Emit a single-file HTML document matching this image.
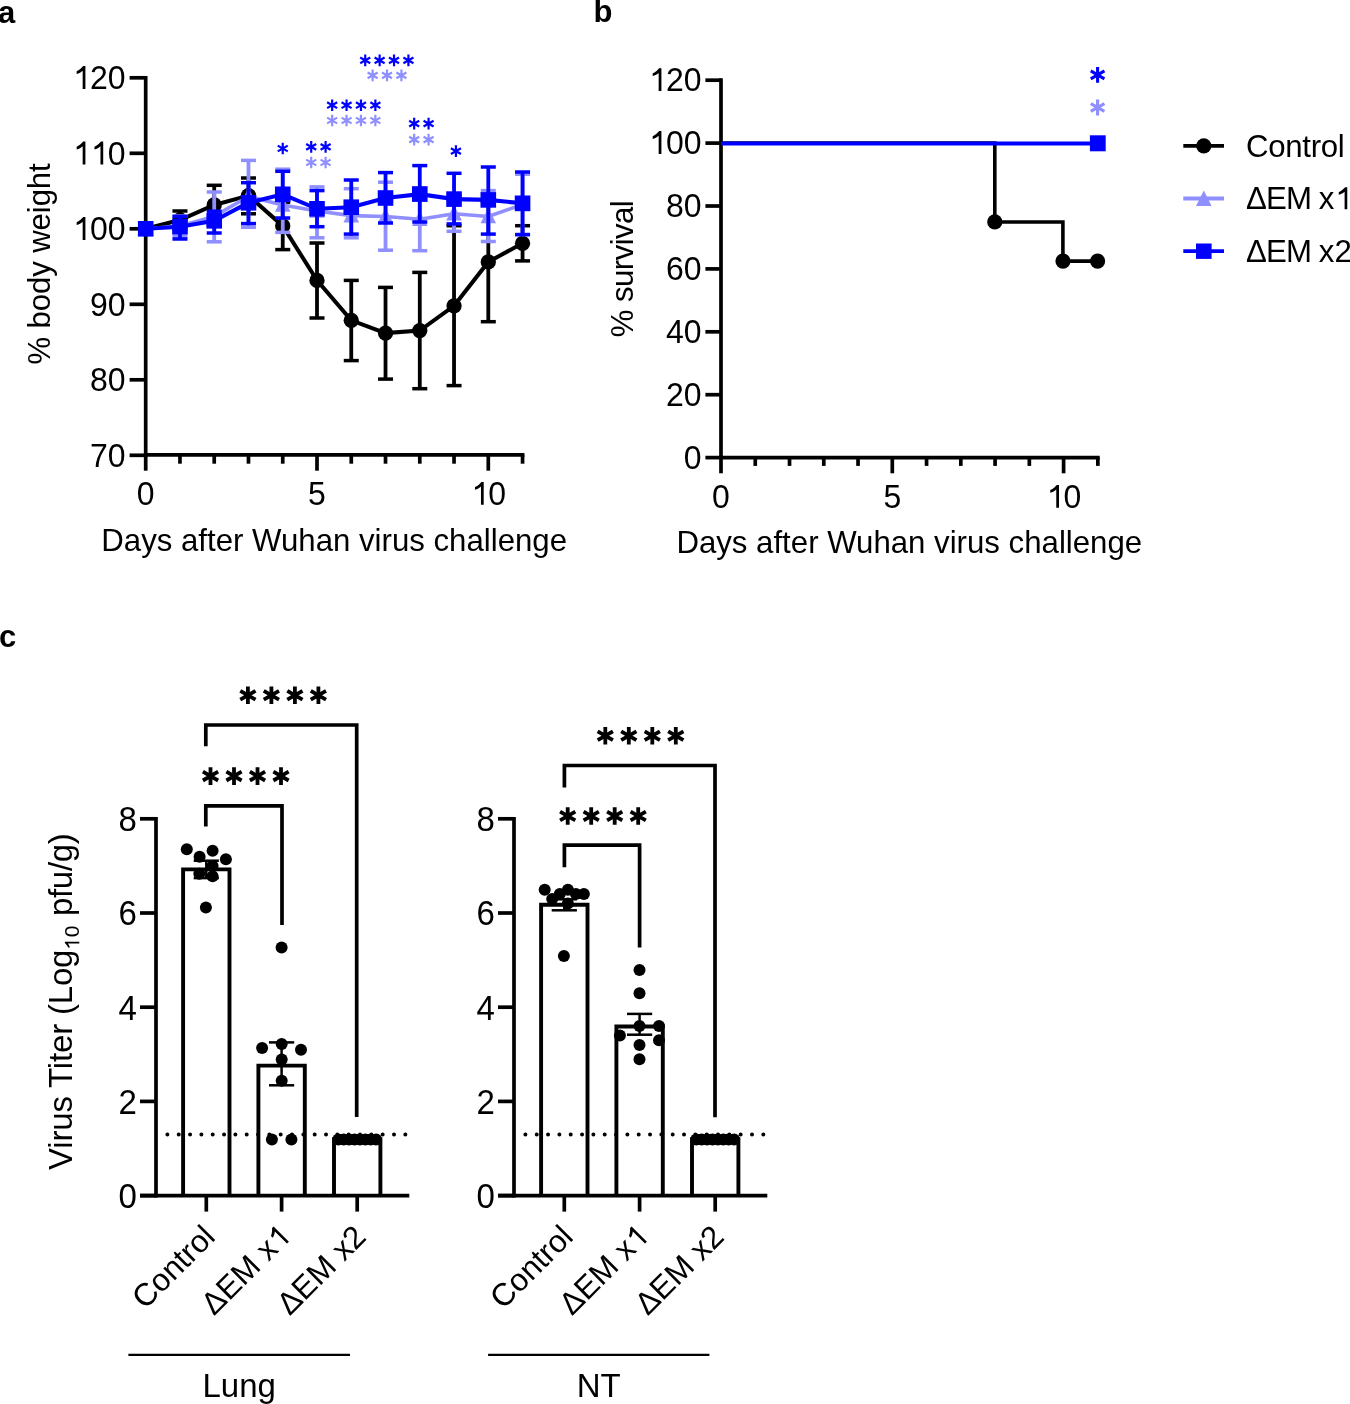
<!DOCTYPE html>
<html><head><meta charset="utf-8"><style>
html,body{margin:0;padding:0;background:#fff;}
svg{display:block;}
text{font-family:"Liberation Sans",sans-serif;white-space:pre;}
svg{will-change:transform;}
</style></head><body>
<svg width="1350" height="1404" viewBox="0 0 1350 1404">
<rect width="1350" height="1404" fill="#fff"/>
<text x="-2.00" y="22.70" font-size="31" text-anchor="start" font-weight="bold" fill="#000" >a</text>
<line x1="145.70" y1="75.95" x2="145.70" y2="454.80" stroke="#000" stroke-width="3.7" stroke-linecap="butt"/>
<line x1="129.60" y1="455.30" x2="145.70" y2="455.30" stroke="#000" stroke-width="3.7" stroke-linecap="butt"/>
<text transform="translate(90.01,466.50) scale(1,1.04)" font-size="32.0">7</text>
<text transform="translate(107.80,466.50) scale(1,1.04)" font-size="32.0">0</text>
<line x1="129.60" y1="379.80" x2="145.70" y2="379.80" stroke="#000" stroke-width="3.7" stroke-linecap="butt"/>
<text transform="translate(90.01,391.00) scale(1,1.04)" font-size="32.0">8</text>
<text transform="translate(107.80,391.00) scale(1,1.04)" font-size="32.0">0</text>
<line x1="129.60" y1="304.30" x2="145.70" y2="304.30" stroke="#000" stroke-width="3.7" stroke-linecap="butt"/>
<text transform="translate(90.01,315.50) scale(1,1.04)" font-size="32.0">9</text>
<text transform="translate(107.80,315.50) scale(1,1.04)" font-size="32.0">0</text>
<line x1="129.60" y1="228.80" x2="145.70" y2="228.80" stroke="#000" stroke-width="3.7" stroke-linecap="butt"/>
<path d="M845,0L670,0L670,1120C620,1075 565,1040 500,1005C430,968 350,940 285,922L285,1090C380,1130 470,1185 550,1255C620,1318 670,1370 705,1409L845,1409Z" fill="#000" transform="translate(72.21,240.00) scale(0.01562,-0.01625)"/>
<text transform="translate(90.01,240.00) scale(1,1.04)" font-size="32.0">0</text>
<text transform="translate(107.80,240.00) scale(1,1.04)" font-size="32.0">0</text>
<line x1="129.60" y1="153.30" x2="145.70" y2="153.30" stroke="#000" stroke-width="3.7" stroke-linecap="butt"/>
<path d="M845,0L670,0L670,1120C620,1075 565,1040 500,1005C430,968 350,940 285,922L285,1090C380,1130 470,1185 550,1255C620,1318 670,1370 705,1409L845,1409Z" fill="#000" transform="translate(72.21,164.50) scale(0.01562,-0.01625)"/>
<path d="M845,0L670,0L670,1120C620,1075 565,1040 500,1005C430,968 350,940 285,922L285,1090C380,1130 470,1185 550,1255C620,1318 670,1370 705,1409L845,1409Z" fill="#000" transform="translate(90.01,164.50) scale(0.01562,-0.01625)"/>
<text transform="translate(107.80,164.50) scale(1,1.04)" font-size="32.0">0</text>
<line x1="129.60" y1="77.80" x2="145.70" y2="77.80" stroke="#000" stroke-width="3.7" stroke-linecap="butt"/>
<path d="M845,0L670,0L670,1120C620,1075 565,1040 500,1005C430,968 350,940 285,922L285,1090C380,1130 470,1185 550,1255C620,1318 670,1370 705,1409L845,1409Z" fill="#000" transform="translate(72.21,89.00) scale(0.01562,-0.01625)"/>
<text transform="translate(90.01,89.00) scale(1,1.04)" font-size="32.0">2</text>
<text transform="translate(107.80,89.00) scale(1,1.04)" font-size="32.0">0</text>
<line x1="143.85" y1="454.80" x2="524.41" y2="454.80" stroke="#000" stroke-width="3.7" stroke-linecap="butt"/>
<line x1="145.70" y1="454.80" x2="145.70" y2="470.70" stroke="#000" stroke-width="3.7" stroke-linecap="butt"/>
<line x1="179.96" y1="454.80" x2="179.96" y2="463.70" stroke="#000" stroke-width="3.7" stroke-linecap="butt"/>
<line x1="214.22" y1="454.80" x2="214.22" y2="463.70" stroke="#000" stroke-width="3.7" stroke-linecap="butt"/>
<line x1="248.48" y1="454.80" x2="248.48" y2="463.70" stroke="#000" stroke-width="3.7" stroke-linecap="butt"/>
<line x1="282.74" y1="454.80" x2="282.74" y2="463.70" stroke="#000" stroke-width="3.7" stroke-linecap="butt"/>
<line x1="317.00" y1="454.80" x2="317.00" y2="470.70" stroke="#000" stroke-width="3.7" stroke-linecap="butt"/>
<line x1="351.26" y1="454.80" x2="351.26" y2="463.70" stroke="#000" stroke-width="3.7" stroke-linecap="butt"/>
<line x1="385.52" y1="454.80" x2="385.52" y2="463.70" stroke="#000" stroke-width="3.7" stroke-linecap="butt"/>
<line x1="419.78" y1="454.80" x2="419.78" y2="463.70" stroke="#000" stroke-width="3.7" stroke-linecap="butt"/>
<line x1="454.04" y1="454.80" x2="454.04" y2="463.70" stroke="#000" stroke-width="3.7" stroke-linecap="butt"/>
<line x1="488.30" y1="454.80" x2="488.30" y2="470.70" stroke="#000" stroke-width="3.7" stroke-linecap="butt"/>
<line x1="522.56" y1="454.80" x2="522.56" y2="463.70" stroke="#000" stroke-width="3.7" stroke-linecap="butt"/>
<text transform="translate(136.80,504.80) scale(1,1.04)" font-size="32.0">0</text>
<text transform="translate(308.10,504.80) scale(1,1.04)" font-size="32.0">5</text>
<path d="M845,0L670,0L670,1120C620,1075 565,1040 500,1005C430,968 350,940 285,922L285,1090C380,1130 470,1185 550,1255C620,1318 670,1370 705,1409L845,1409Z" fill="#000" transform="translate(470.50,504.80) scale(0.01562,-0.01625)"/>
<text transform="translate(488.30,504.80) scale(1,1.04)" font-size="32.0">0</text>
<text x="101.30" y="551.10" font-size="31.2" text-anchor="start" font-weight="normal" fill="#000" >Days after Wuhan virus challenge</text>
<text x="0.00" y="0.00" font-size="31.2" text-anchor="middle" font-weight="normal" fill="#000" transform="translate(50,263.9) rotate(-90)" textLength="201.3" lengthAdjust="spacing">% body weight</text>
<line x1="179.96" y1="211.00" x2="179.96" y2="229.00" stroke="#000" stroke-width="3.8" stroke-linecap="butt"/>
<line x1="172.46" y1="211.00" x2="187.46" y2="211.00" stroke="#000" stroke-width="3.5" stroke-linecap="butt"/>
<line x1="172.46" y1="229.00" x2="187.46" y2="229.00" stroke="#000" stroke-width="3.5" stroke-linecap="butt"/>
<line x1="214.22" y1="185.30" x2="214.22" y2="224.70" stroke="#000" stroke-width="3.8" stroke-linecap="butt"/>
<line x1="206.72" y1="185.30" x2="221.72" y2="185.30" stroke="#000" stroke-width="3.5" stroke-linecap="butt"/>
<line x1="206.72" y1="224.70" x2="221.72" y2="224.70" stroke="#000" stroke-width="3.5" stroke-linecap="butt"/>
<line x1="248.48" y1="178.00" x2="248.48" y2="213.80" stroke="#000" stroke-width="3.8" stroke-linecap="butt"/>
<line x1="240.98" y1="178.00" x2="255.98" y2="178.00" stroke="#000" stroke-width="3.5" stroke-linecap="butt"/>
<line x1="240.98" y1="213.80" x2="255.98" y2="213.80" stroke="#000" stroke-width="3.5" stroke-linecap="butt"/>
<line x1="282.74" y1="202.20" x2="282.74" y2="249.60" stroke="#000" stroke-width="3.8" stroke-linecap="butt"/>
<line x1="275.24" y1="202.20" x2="290.24" y2="202.20" stroke="#000" stroke-width="3.5" stroke-linecap="butt"/>
<line x1="275.24" y1="249.60" x2="290.24" y2="249.60" stroke="#000" stroke-width="3.5" stroke-linecap="butt"/>
<line x1="317.00" y1="243.00" x2="317.00" y2="318.00" stroke="#000" stroke-width="3.8" stroke-linecap="butt"/>
<line x1="309.50" y1="243.00" x2="324.50" y2="243.00" stroke="#000" stroke-width="3.5" stroke-linecap="butt"/>
<line x1="309.50" y1="318.00" x2="324.50" y2="318.00" stroke="#000" stroke-width="3.5" stroke-linecap="butt"/>
<line x1="351.26" y1="280.40" x2="351.26" y2="360.60" stroke="#000" stroke-width="3.8" stroke-linecap="butt"/>
<line x1="343.76" y1="280.40" x2="358.76" y2="280.40" stroke="#000" stroke-width="3.5" stroke-linecap="butt"/>
<line x1="343.76" y1="360.60" x2="358.76" y2="360.60" stroke="#000" stroke-width="3.5" stroke-linecap="butt"/>
<line x1="385.52" y1="287.40" x2="385.52" y2="379.10" stroke="#000" stroke-width="3.8" stroke-linecap="butt"/>
<line x1="378.02" y1="287.40" x2="393.02" y2="287.40" stroke="#000" stroke-width="3.5" stroke-linecap="butt"/>
<line x1="378.02" y1="379.10" x2="393.02" y2="379.10" stroke="#000" stroke-width="3.5" stroke-linecap="butt"/>
<line x1="419.78" y1="272.40" x2="419.78" y2="388.70" stroke="#000" stroke-width="3.8" stroke-linecap="butt"/>
<line x1="412.28" y1="272.40" x2="427.28" y2="272.40" stroke="#000" stroke-width="3.5" stroke-linecap="butt"/>
<line x1="412.28" y1="388.70" x2="427.28" y2="388.70" stroke="#000" stroke-width="3.5" stroke-linecap="butt"/>
<line x1="454.04" y1="225.70" x2="454.04" y2="385.60" stroke="#000" stroke-width="3.8" stroke-linecap="butt"/>
<line x1="446.54" y1="225.70" x2="461.54" y2="225.70" stroke="#000" stroke-width="3.5" stroke-linecap="butt"/>
<line x1="446.54" y1="385.60" x2="461.54" y2="385.60" stroke="#000" stroke-width="3.5" stroke-linecap="butt"/>
<line x1="488.30" y1="202.10" x2="488.30" y2="321.70" stroke="#000" stroke-width="3.8" stroke-linecap="butt"/>
<line x1="480.80" y1="202.10" x2="495.80" y2="202.10" stroke="#000" stroke-width="3.5" stroke-linecap="butt"/>
<line x1="480.80" y1="321.70" x2="495.80" y2="321.70" stroke="#000" stroke-width="3.5" stroke-linecap="butt"/>
<line x1="522.56" y1="225.70" x2="522.56" y2="260.90" stroke="#000" stroke-width="3.8" stroke-linecap="butt"/>
<line x1="515.06" y1="225.70" x2="530.06" y2="225.70" stroke="#000" stroke-width="3.5" stroke-linecap="butt"/>
<line x1="515.06" y1="260.90" x2="530.06" y2="260.90" stroke="#000" stroke-width="3.5" stroke-linecap="butt"/>
<polyline points="145.70,228.80 179.96,220.00 214.22,205.00 248.48,195.60 282.74,225.90 317.00,280.40 351.26,320.30 385.52,333.10 419.78,330.60 454.04,305.80 488.30,261.90 522.56,243.30" fill="none" stroke="#000" stroke-width="4.0" stroke-linejoin="miter"/>
<circle cx="145.70" cy="228.80" r="7.65" fill="#000"/>
<circle cx="179.96" cy="220.00" r="7.65" fill="#000"/>
<circle cx="214.22" cy="205.00" r="7.65" fill="#000"/>
<circle cx="248.48" cy="195.60" r="7.65" fill="#000"/>
<circle cx="282.74" cy="225.90" r="7.65" fill="#000"/>
<circle cx="317.00" cy="280.40" r="7.65" fill="#000"/>
<circle cx="351.26" cy="320.30" r="7.65" fill="#000"/>
<circle cx="385.52" cy="333.10" r="7.65" fill="#000"/>
<circle cx="419.78" cy="330.60" r="7.65" fill="#000"/>
<circle cx="454.04" cy="305.80" r="7.65" fill="#000"/>
<circle cx="488.30" cy="261.90" r="7.65" fill="#000"/>
<circle cx="522.56" cy="243.30" r="7.65" fill="#000"/>
<line x1="179.96" y1="216.00" x2="179.96" y2="236.20" stroke="#8f8fff" stroke-width="3.8" stroke-linecap="butt"/>
<line x1="172.46" y1="216.00" x2="187.46" y2="216.00" stroke="#8f8fff" stroke-width="3.5" stroke-linecap="butt"/>
<line x1="172.46" y1="236.20" x2="187.46" y2="236.20" stroke="#8f8fff" stroke-width="3.5" stroke-linecap="butt"/>
<line x1="214.22" y1="192.00" x2="214.22" y2="241.80" stroke="#8f8fff" stroke-width="3.8" stroke-linecap="butt"/>
<line x1="206.72" y1="192.00" x2="221.72" y2="192.00" stroke="#8f8fff" stroke-width="3.5" stroke-linecap="butt"/>
<line x1="206.72" y1="241.80" x2="221.72" y2="241.80" stroke="#8f8fff" stroke-width="3.5" stroke-linecap="butt"/>
<line x1="248.48" y1="160.40" x2="248.48" y2="227.30" stroke="#8f8fff" stroke-width="3.8" stroke-linecap="butt"/>
<line x1="240.98" y1="160.40" x2="255.98" y2="160.40" stroke="#8f8fff" stroke-width="3.5" stroke-linecap="butt"/>
<line x1="240.98" y1="227.30" x2="255.98" y2="227.30" stroke="#8f8fff" stroke-width="3.5" stroke-linecap="butt"/>
<line x1="282.74" y1="169.20" x2="282.74" y2="232.40" stroke="#8f8fff" stroke-width="3.8" stroke-linecap="butt"/>
<line x1="275.24" y1="169.20" x2="290.24" y2="169.20" stroke="#8f8fff" stroke-width="3.5" stroke-linecap="butt"/>
<line x1="275.24" y1="232.40" x2="290.24" y2="232.40" stroke="#8f8fff" stroke-width="3.5" stroke-linecap="butt"/>
<line x1="317.00" y1="186.90" x2="317.00" y2="237.80" stroke="#8f8fff" stroke-width="3.8" stroke-linecap="butt"/>
<line x1="309.50" y1="186.90" x2="324.50" y2="186.90" stroke="#8f8fff" stroke-width="3.5" stroke-linecap="butt"/>
<line x1="309.50" y1="237.80" x2="324.50" y2="237.80" stroke="#8f8fff" stroke-width="3.5" stroke-linecap="butt"/>
<line x1="351.26" y1="188.70" x2="351.26" y2="237.80" stroke="#8f8fff" stroke-width="3.8" stroke-linecap="butt"/>
<line x1="343.76" y1="188.70" x2="358.76" y2="188.70" stroke="#8f8fff" stroke-width="3.5" stroke-linecap="butt"/>
<line x1="343.76" y1="237.80" x2="358.76" y2="237.80" stroke="#8f8fff" stroke-width="3.5" stroke-linecap="butt"/>
<line x1="385.52" y1="182.20" x2="385.52" y2="250.20" stroke="#8f8fff" stroke-width="3.8" stroke-linecap="butt"/>
<line x1="378.02" y1="182.20" x2="393.02" y2="182.20" stroke="#8f8fff" stroke-width="3.5" stroke-linecap="butt"/>
<line x1="378.02" y1="250.20" x2="393.02" y2="250.20" stroke="#8f8fff" stroke-width="3.5" stroke-linecap="butt"/>
<line x1="419.78" y1="187.90" x2="419.78" y2="250.70" stroke="#8f8fff" stroke-width="3.8" stroke-linecap="butt"/>
<line x1="412.28" y1="187.90" x2="427.28" y2="187.90" stroke="#8f8fff" stroke-width="3.5" stroke-linecap="butt"/>
<line x1="412.28" y1="250.70" x2="427.28" y2="250.70" stroke="#8f8fff" stroke-width="3.5" stroke-linecap="butt"/>
<line x1="454.04" y1="196.00" x2="454.04" y2="231.30" stroke="#8f8fff" stroke-width="3.8" stroke-linecap="butt"/>
<line x1="446.54" y1="196.00" x2="461.54" y2="196.00" stroke="#8f8fff" stroke-width="3.5" stroke-linecap="butt"/>
<line x1="446.54" y1="231.30" x2="461.54" y2="231.30" stroke="#8f8fff" stroke-width="3.5" stroke-linecap="butt"/>
<line x1="488.30" y1="190.60" x2="488.30" y2="241.50" stroke="#8f8fff" stroke-width="3.8" stroke-linecap="butt"/>
<line x1="480.80" y1="190.60" x2="495.80" y2="190.60" stroke="#8f8fff" stroke-width="3.5" stroke-linecap="butt"/>
<line x1="480.80" y1="241.50" x2="495.80" y2="241.50" stroke="#8f8fff" stroke-width="3.5" stroke-linecap="butt"/>
<line x1="522.56" y1="174.20" x2="522.56" y2="234.60" stroke="#8f8fff" stroke-width="3.8" stroke-linecap="butt"/>
<line x1="515.06" y1="174.20" x2="530.06" y2="174.20" stroke="#8f8fff" stroke-width="3.5" stroke-linecap="butt"/>
<line x1="515.06" y1="234.60" x2="530.06" y2="234.60" stroke="#8f8fff" stroke-width="3.5" stroke-linecap="butt"/>
<polyline points="145.70,228.80 179.96,226.00 214.22,216.40 248.48,196.50 282.74,205.00 317.00,211.00 351.26,215.60 385.52,216.50 419.78,219.30 454.04,213.70 488.30,216.50 522.56,204.40" fill="none" stroke="#8f8fff" stroke-width="3.6" stroke-linejoin="miter"/>
<path d="M145.70,220.20L153.50,235.60L137.90,235.60Z" fill="#8f8fff"/>
<path d="M179.96,217.40L187.76,232.80L172.16,232.80Z" fill="#8f8fff"/>
<path d="M214.22,207.80L222.02,223.20L206.42,223.20Z" fill="#8f8fff"/>
<path d="M248.48,187.90L256.28,203.30L240.68,203.30Z" fill="#8f8fff"/>
<path d="M282.74,196.40L290.54,211.80L274.94,211.80Z" fill="#8f8fff"/>
<path d="M317.00,202.40L324.80,217.80L309.20,217.80Z" fill="#8f8fff"/>
<path d="M351.26,207.00L359.06,222.40L343.46,222.40Z" fill="#8f8fff"/>
<path d="M385.52,207.90L393.32,223.30L377.72,223.30Z" fill="#8f8fff"/>
<path d="M419.78,210.70L427.58,226.10L411.98,226.10Z" fill="#8f8fff"/>
<path d="M454.04,205.10L461.84,220.50L446.24,220.50Z" fill="#8f8fff"/>
<path d="M488.30,207.90L496.10,223.30L480.50,223.30Z" fill="#8f8fff"/>
<path d="M522.56,195.80L530.36,211.20L514.76,211.20Z" fill="#8f8fff"/>
<line x1="179.96" y1="216.50" x2="179.96" y2="239.00" stroke="#0000ff" stroke-width="3.8" stroke-linecap="butt"/>
<line x1="172.46" y1="216.50" x2="187.46" y2="216.50" stroke="#0000ff" stroke-width="3.5" stroke-linecap="butt"/>
<line x1="172.46" y1="239.00" x2="187.46" y2="239.00" stroke="#0000ff" stroke-width="3.5" stroke-linecap="butt"/>
<line x1="214.22" y1="211.20" x2="214.22" y2="233.00" stroke="#0000ff" stroke-width="3.8" stroke-linecap="butt"/>
<line x1="206.72" y1="211.20" x2="221.72" y2="211.20" stroke="#0000ff" stroke-width="3.5" stroke-linecap="butt"/>
<line x1="206.72" y1="233.00" x2="221.72" y2="233.00" stroke="#0000ff" stroke-width="3.5" stroke-linecap="butt"/>
<line x1="248.48" y1="182.70" x2="248.48" y2="223.60" stroke="#0000ff" stroke-width="3.8" stroke-linecap="butt"/>
<line x1="240.98" y1="182.70" x2="255.98" y2="182.70" stroke="#0000ff" stroke-width="3.5" stroke-linecap="butt"/>
<line x1="240.98" y1="223.60" x2="255.98" y2="223.60" stroke="#0000ff" stroke-width="3.5" stroke-linecap="butt"/>
<line x1="282.74" y1="171.30" x2="282.74" y2="218.00" stroke="#0000ff" stroke-width="3.8" stroke-linecap="butt"/>
<line x1="275.24" y1="171.30" x2="290.24" y2="171.30" stroke="#0000ff" stroke-width="3.5" stroke-linecap="butt"/>
<line x1="275.24" y1="218.00" x2="290.24" y2="218.00" stroke="#0000ff" stroke-width="3.5" stroke-linecap="butt"/>
<line x1="317.00" y1="190.60" x2="317.00" y2="226.70" stroke="#0000ff" stroke-width="3.8" stroke-linecap="butt"/>
<line x1="309.50" y1="190.60" x2="324.50" y2="190.60" stroke="#0000ff" stroke-width="3.5" stroke-linecap="butt"/>
<line x1="309.50" y1="226.70" x2="324.50" y2="226.70" stroke="#0000ff" stroke-width="3.5" stroke-linecap="butt"/>
<line x1="351.26" y1="180.00" x2="351.26" y2="234.10" stroke="#0000ff" stroke-width="3.8" stroke-linecap="butt"/>
<line x1="343.76" y1="180.00" x2="358.76" y2="180.00" stroke="#0000ff" stroke-width="3.5" stroke-linecap="butt"/>
<line x1="343.76" y1="234.10" x2="358.76" y2="234.10" stroke="#0000ff" stroke-width="3.5" stroke-linecap="butt"/>
<line x1="385.52" y1="172.60" x2="385.52" y2="223.00" stroke="#0000ff" stroke-width="3.8" stroke-linecap="butt"/>
<line x1="378.02" y1="172.60" x2="393.02" y2="172.60" stroke="#0000ff" stroke-width="3.5" stroke-linecap="butt"/>
<line x1="378.02" y1="223.00" x2="393.02" y2="223.00" stroke="#0000ff" stroke-width="3.5" stroke-linecap="butt"/>
<line x1="419.78" y1="165.60" x2="419.78" y2="222.00" stroke="#0000ff" stroke-width="3.8" stroke-linecap="butt"/>
<line x1="412.28" y1="165.60" x2="427.28" y2="165.60" stroke="#0000ff" stroke-width="3.5" stroke-linecap="butt"/>
<line x1="412.28" y1="222.00" x2="427.28" y2="222.00" stroke="#0000ff" stroke-width="3.5" stroke-linecap="butt"/>
<line x1="454.04" y1="173.30" x2="454.04" y2="223.90" stroke="#0000ff" stroke-width="3.8" stroke-linecap="butt"/>
<line x1="446.54" y1="173.30" x2="461.54" y2="173.30" stroke="#0000ff" stroke-width="3.5" stroke-linecap="butt"/>
<line x1="446.54" y1="223.90" x2="461.54" y2="223.90" stroke="#0000ff" stroke-width="3.5" stroke-linecap="butt"/>
<line x1="488.30" y1="167.00" x2="488.30" y2="234.10" stroke="#0000ff" stroke-width="3.8" stroke-linecap="butt"/>
<line x1="480.80" y1="167.00" x2="495.80" y2="167.00" stroke="#0000ff" stroke-width="3.5" stroke-linecap="butt"/>
<line x1="480.80" y1="234.10" x2="495.80" y2="234.10" stroke="#0000ff" stroke-width="3.5" stroke-linecap="butt"/>
<line x1="522.56" y1="172.00" x2="522.56" y2="234.60" stroke="#0000ff" stroke-width="3.8" stroke-linecap="butt"/>
<line x1="515.06" y1="172.00" x2="530.06" y2="172.00" stroke="#0000ff" stroke-width="3.5" stroke-linecap="butt"/>
<line x1="515.06" y1="234.60" x2="530.06" y2="234.60" stroke="#0000ff" stroke-width="3.5" stroke-linecap="butt"/>
<polyline points="145.70,228.80 179.96,226.70 214.22,220.80 248.48,202.80 282.74,194.30 317.00,208.80 351.26,207.20 385.52,198.00 419.78,194.10 454.04,199.10 488.30,199.90 522.56,203.30" fill="none" stroke="#0000ff" stroke-width="4.1" stroke-linejoin="miter"/>
<rect x="137.90" y="221.00" width="15.6" height="15.6" fill="#0000ff"/>
<rect x="172.16" y="218.90" width="15.6" height="15.6" fill="#0000ff"/>
<rect x="206.42" y="213.00" width="15.6" height="15.6" fill="#0000ff"/>
<rect x="240.68" y="195.00" width="15.6" height="15.6" fill="#0000ff"/>
<rect x="274.94" y="186.50" width="15.6" height="15.6" fill="#0000ff"/>
<rect x="309.20" y="201.00" width="15.6" height="15.6" fill="#0000ff"/>
<rect x="343.46" y="199.40" width="15.6" height="15.6" fill="#0000ff"/>
<rect x="377.72" y="190.20" width="15.6" height="15.6" fill="#0000ff"/>
<rect x="411.98" y="186.30" width="15.6" height="15.6" fill="#0000ff"/>
<rect x="446.24" y="191.30" width="15.6" height="15.6" fill="#0000ff"/>
<rect x="480.50" y="192.10" width="15.6" height="15.6" fill="#0000ff"/>
<rect x="514.76" y="195.50" width="15.6" height="15.6" fill="#0000ff"/>
<path d="M282.74,154.30L282.74,142.70M277.72,151.40L287.76,145.60M277.72,145.60L287.76,151.40" stroke="#0000ff" stroke-width="2.2" fill="none"/>
<path d="M311.20,152.70L311.20,141.10M306.18,149.80L316.22,144.00M306.18,144.00L316.22,149.80" stroke="#0000ff" stroke-width="2.2" fill="none"/>
<path d="M325.60,152.70L325.60,141.10M320.58,149.80L330.62,144.00M320.58,144.00L330.62,149.80" stroke="#0000ff" stroke-width="2.2" fill="none"/>
<path d="M311.20,168.30L311.20,156.70M306.18,165.40L316.22,159.60M306.18,159.60L316.22,165.40" stroke="#8f8fff" stroke-width="2.2" fill="none"/>
<path d="M325.60,168.30L325.60,156.70M320.58,165.40L330.62,159.60M320.58,159.60L330.62,165.40" stroke="#8f8fff" stroke-width="2.2" fill="none"/>
<path d="M332.16,111.00L332.16,99.40M327.14,108.10L337.18,102.30M327.14,102.30L337.18,108.10" stroke="#0000ff" stroke-width="2.2" fill="none"/>
<path d="M346.56,111.00L346.56,99.40M341.54,108.10L351.58,102.30M341.54,102.30L351.58,108.10" stroke="#0000ff" stroke-width="2.2" fill="none"/>
<path d="M360.96,111.00L360.96,99.40M355.94,108.10L365.98,102.30M355.94,102.30L365.98,108.10" stroke="#0000ff" stroke-width="2.2" fill="none"/>
<path d="M375.36,111.00L375.36,99.40M370.34,108.10L380.38,102.30M370.34,102.30L380.38,108.10" stroke="#0000ff" stroke-width="2.2" fill="none"/>
<path d="M332.16,126.30L332.16,114.70M327.14,123.40L337.18,117.60M327.14,117.60L337.18,123.40" stroke="#8f8fff" stroke-width="2.2" fill="none"/>
<path d="M346.56,126.30L346.56,114.70M341.54,123.40L351.58,117.60M341.54,117.60L351.58,123.40" stroke="#8f8fff" stroke-width="2.2" fill="none"/>
<path d="M360.96,126.30L360.96,114.70M355.94,123.40L365.98,117.60M355.94,117.60L365.98,123.40" stroke="#8f8fff" stroke-width="2.2" fill="none"/>
<path d="M375.36,126.30L375.36,114.70M370.34,123.40L380.38,117.60M370.34,117.60L380.38,123.40" stroke="#8f8fff" stroke-width="2.2" fill="none"/>
<path d="M365.22,66.20L365.22,54.60M360.20,63.30L370.24,57.50M360.20,57.50L370.24,63.30" stroke="#0000ff" stroke-width="2.2" fill="none"/>
<path d="M379.62,66.20L379.62,54.60M374.60,63.30L384.64,57.50M374.60,57.50L384.64,63.30" stroke="#0000ff" stroke-width="2.2" fill="none"/>
<path d="M394.02,66.20L394.02,54.60M389.00,63.30L399.04,57.50M389.00,57.50L399.04,63.30" stroke="#0000ff" stroke-width="2.2" fill="none"/>
<path d="M408.42,66.20L408.42,54.60M403.40,63.30L413.44,57.50M403.40,57.50L413.44,63.30" stroke="#0000ff" stroke-width="2.2" fill="none"/>
<path d="M372.62,81.20L372.62,69.60M367.60,78.30L377.64,72.50M367.60,72.50L377.64,78.30" stroke="#8f8fff" stroke-width="2.2" fill="none"/>
<path d="M387.02,81.20L387.02,69.60M382.00,78.30L392.04,72.50M382.00,72.50L392.04,78.30" stroke="#8f8fff" stroke-width="2.2" fill="none"/>
<path d="M401.42,81.20L401.42,69.60M396.40,78.30L406.44,72.50M396.40,72.50L406.44,78.30" stroke="#8f8fff" stroke-width="2.2" fill="none"/>
<path d="M414.18,129.40L414.18,117.80M409.16,126.50L419.20,120.70M409.16,120.70L419.20,126.50" stroke="#0000ff" stroke-width="2.2" fill="none"/>
<path d="M428.58,129.40L428.58,117.80M423.56,126.50L433.60,120.70M423.56,120.70L433.60,126.50" stroke="#0000ff" stroke-width="2.2" fill="none"/>
<path d="M414.18,145.40L414.18,133.80M409.16,142.50L419.20,136.70M409.16,136.70L419.20,142.50" stroke="#8f8fff" stroke-width="2.2" fill="none"/>
<path d="M428.58,145.40L428.58,133.80M423.56,142.50L433.60,136.70M423.56,136.70L433.60,142.50" stroke="#8f8fff" stroke-width="2.2" fill="none"/>
<path d="M455.94,156.90L455.94,145.30M450.92,154.00L460.96,148.20M450.92,148.20L460.96,154.00" stroke="#0000ff" stroke-width="2.2" fill="none"/>
<text x="593.60" y="22.20" font-size="31" text-anchor="start" font-weight="bold" fill="#000" >b</text>
<line x1="721.00" y1="78.35" x2="721.00" y2="457.60" stroke="#000" stroke-width="3.7" stroke-linecap="butt"/>
<line x1="705.40" y1="457.60" x2="721.00" y2="457.60" stroke="#000" stroke-width="3.7" stroke-linecap="butt"/>
<text transform="translate(683.80,468.50) scale(1,1.04)" font-size="32.0">0</text>
<line x1="705.40" y1="394.70" x2="721.00" y2="394.70" stroke="#000" stroke-width="3.7" stroke-linecap="butt"/>
<text transform="translate(666.01,405.60) scale(1,1.04)" font-size="32.0">2</text>
<text transform="translate(683.80,405.60) scale(1,1.04)" font-size="32.0">0</text>
<line x1="705.40" y1="331.80" x2="721.00" y2="331.80" stroke="#000" stroke-width="3.7" stroke-linecap="butt"/>
<text transform="translate(666.01,342.70) scale(1,1.04)" font-size="32.0">4</text>
<text transform="translate(683.80,342.70) scale(1,1.04)" font-size="32.0">0</text>
<line x1="705.40" y1="268.90" x2="721.00" y2="268.90" stroke="#000" stroke-width="3.7" stroke-linecap="butt"/>
<text transform="translate(666.01,279.80) scale(1,1.04)" font-size="32.0">6</text>
<text transform="translate(683.80,279.80) scale(1,1.04)" font-size="32.0">0</text>
<line x1="705.40" y1="206.00" x2="721.00" y2="206.00" stroke="#000" stroke-width="3.7" stroke-linecap="butt"/>
<text transform="translate(666.01,216.90) scale(1,1.04)" font-size="32.0">8</text>
<text transform="translate(683.80,216.90) scale(1,1.04)" font-size="32.0">0</text>
<line x1="705.40" y1="143.10" x2="721.00" y2="143.10" stroke="#000" stroke-width="3.7" stroke-linecap="butt"/>
<path d="M845,0L670,0L670,1120C620,1075 565,1040 500,1005C430,968 350,940 285,922L285,1090C380,1130 470,1185 550,1255C620,1318 670,1370 705,1409L845,1409Z" fill="#000" transform="translate(648.21,154.00) scale(0.01562,-0.01625)"/>
<text transform="translate(666.01,154.00) scale(1,1.04)" font-size="32.0">0</text>
<text transform="translate(683.80,154.00) scale(1,1.04)" font-size="32.0">0</text>
<line x1="705.40" y1="80.20" x2="721.00" y2="80.20" stroke="#000" stroke-width="3.7" stroke-linecap="butt"/>
<path d="M845,0L670,0L670,1120C620,1075 565,1040 500,1005C430,968 350,940 285,922L285,1090C380,1130 470,1185 550,1255C620,1318 670,1370 705,1409L845,1409Z" fill="#000" transform="translate(648.21,91.10) scale(0.01562,-0.01625)"/>
<text transform="translate(666.01,91.10) scale(1,1.04)" font-size="32.0">2</text>
<text transform="translate(683.80,91.10) scale(1,1.04)" font-size="32.0">0</text>
<line x1="719.15" y1="457.60" x2="1099.71" y2="457.60" stroke="#000" stroke-width="3.7" stroke-linecap="butt"/>
<line x1="721.00" y1="457.60" x2="721.00" y2="473.30" stroke="#000" stroke-width="3.7" stroke-linecap="butt"/>
<line x1="755.26" y1="457.60" x2="755.26" y2="465.90" stroke="#000" stroke-width="3.7" stroke-linecap="butt"/>
<line x1="789.52" y1="457.60" x2="789.52" y2="465.90" stroke="#000" stroke-width="3.7" stroke-linecap="butt"/>
<line x1="823.78" y1="457.60" x2="823.78" y2="465.90" stroke="#000" stroke-width="3.7" stroke-linecap="butt"/>
<line x1="858.04" y1="457.60" x2="858.04" y2="465.90" stroke="#000" stroke-width="3.7" stroke-linecap="butt"/>
<line x1="892.30" y1="457.60" x2="892.30" y2="473.30" stroke="#000" stroke-width="3.7" stroke-linecap="butt"/>
<line x1="926.56" y1="457.60" x2="926.56" y2="465.90" stroke="#000" stroke-width="3.7" stroke-linecap="butt"/>
<line x1="960.82" y1="457.60" x2="960.82" y2="465.90" stroke="#000" stroke-width="3.7" stroke-linecap="butt"/>
<line x1="995.08" y1="457.60" x2="995.08" y2="465.90" stroke="#000" stroke-width="3.7" stroke-linecap="butt"/>
<line x1="1029.34" y1="457.60" x2="1029.34" y2="465.90" stroke="#000" stroke-width="3.7" stroke-linecap="butt"/>
<line x1="1063.60" y1="457.60" x2="1063.60" y2="473.30" stroke="#000" stroke-width="3.7" stroke-linecap="butt"/>
<line x1="1097.86" y1="457.60" x2="1097.86" y2="465.90" stroke="#000" stroke-width="3.7" stroke-linecap="butt"/>
<text transform="translate(712.10,507.80) scale(1,1.04)" font-size="32.0">0</text>
<text transform="translate(883.40,507.80) scale(1,1.04)" font-size="32.0">5</text>
<path d="M845,0L670,0L670,1120C620,1075 565,1040 500,1005C430,968 350,940 285,922L285,1090C380,1130 470,1185 550,1255C620,1318 670,1370 705,1409L845,1409Z" fill="#000" transform="translate(1045.80,507.80) scale(0.01562,-0.01625)"/>
<text transform="translate(1063.60,507.80) scale(1,1.04)" font-size="32.0">0</text>
<text x="676.40" y="553.30" font-size="31.2" text-anchor="start" font-weight="normal" fill="#000" >Days after Wuhan virus challenge</text>
<text x="0.00" y="0.00" font-size="31.2" text-anchor="middle" font-weight="normal" fill="#000" transform="translate(632.6,268.7) rotate(-90)" textLength="137" lengthAdjust="spacing">% survival</text>
<path d="M721.0,143.10H994.8V222H1062.9V261.1H1097.6" fill="none" stroke="#000" stroke-width="3.6"/>
<circle cx="994.8" cy="221.9" r="7.6" fill="#000"/>
<circle cx="1063" cy="261.1" r="7.6" fill="#000"/>
<circle cx="1097.6" cy="261.1" r="7.6" fill="#000"/>
<line x1="721.00" y1="143.60" x2="1097.80" y2="143.60" stroke="#0000ff" stroke-width="4.0" stroke-linecap="butt"/>
<rect x="1089.90" y="135.30" width="15.8" height="16" fill="#0000ff"/>
<path d="M1097.60,82.80L1097.60,67.00M1090.76,78.85L1104.44,70.95M1090.76,70.95L1104.44,78.85" stroke="#0000ff" stroke-width="3.1" fill="none"/>
<path d="M1097.60,115.40L1097.60,99.60M1090.76,111.45L1104.44,103.55M1090.76,103.55L1104.44,111.45" stroke="#8f8fff" stroke-width="3.1" fill="none"/>
<line x1="1183.30" y1="145.80" x2="1224.00" y2="145.80" stroke="#000" stroke-width="3.8" stroke-linecap="butt"/>
<circle cx="1203.8" cy="145.8" r="7.6" fill="#000"/>
<g transform="translate(0,156.60) scale(1,1.03)"><text x="1246.0" y="0" font-size="31.2" textLength="98.8" lengthAdjust="spacing">Control</text></g>
<line x1="1183.30" y1="198.50" x2="1224.00" y2="198.50" stroke="#8f8fff" stroke-width="3.8" stroke-linecap="butt"/>
<path d="M1203.80,190.60L1211.60,206.00L1196.00,206.00Z" fill="#8f8fff"/>
<g transform="translate(0,209.30) scale(1,1.03)"><text x="1246.0" y="0" font-size="31.2" textLength="88.4" lengthAdjust="spacing">ΔEM x</text><path d="M845,0L670,0L670,1120C620,1075 565,1040 500,1005C430,968 350,940 285,922L285,1090C380,1130 470,1185 550,1255C620,1318 670,1370 705,1409L845,1409Z" fill="#000" transform="translate(1334.40,0.00) scale(0.01523,-0.01523)"/></g>
<line x1="1183.30" y1="251.20" x2="1224.00" y2="251.20" stroke="#0000ff" stroke-width="3.8" stroke-linecap="butt"/>
<rect x="1196.00" y="243.50" width="15.6" height="15.4" fill="#0000ff"/>
<g transform="translate(0,262.00) scale(1,1.03)"><text x="1246.0" y="0" font-size="31.2" textLength="88.4" lengthAdjust="spacing">ΔEM x</text><text x="1334.4" y="0" font-size="31.2">2</text></g>
<text x="-1.00" y="647.40" font-size="31" text-anchor="start" font-weight="bold" fill="#000" >c</text>
<line x1="156.00" y1="816.95" x2="156.00" y2="1197.45" stroke="#000" stroke-width="3.7" stroke-linecap="butt"/>
<line x1="140.00" y1="1195.60" x2="156.00" y2="1195.60" stroke="#000" stroke-width="3.7" stroke-linecap="butt"/>
<text transform="translate(118.45,1208.00) scale(1,1.04)" font-size="33.0">0</text>
<line x1="140.00" y1="1101.40" x2="156.00" y2="1101.40" stroke="#000" stroke-width="3.7" stroke-linecap="butt"/>
<text transform="translate(118.45,1113.80) scale(1,1.04)" font-size="33.0">2</text>
<line x1="140.00" y1="1007.20" x2="156.00" y2="1007.20" stroke="#000" stroke-width="3.7" stroke-linecap="butt"/>
<text transform="translate(118.45,1019.60) scale(1,1.04)" font-size="33.0">4</text>
<line x1="140.00" y1="913.00" x2="156.00" y2="913.00" stroke="#000" stroke-width="3.7" stroke-linecap="butt"/>
<text transform="translate(118.45,925.40) scale(1,1.04)" font-size="33.0">6</text>
<line x1="140.00" y1="818.80" x2="156.00" y2="818.80" stroke="#000" stroke-width="3.7" stroke-linecap="butt"/>
<text transform="translate(118.45,831.20) scale(1,1.04)" font-size="33.0">8</text>
<line x1="140.00" y1="1195.60" x2="409.30" y2="1195.60" stroke="#000" stroke-width="3.7" stroke-linecap="butt"/>
<line x1="206.30" y1="1195.60" x2="206.30" y2="1211.60" stroke="#000" stroke-width="3.7" stroke-linecap="butt"/>
<line x1="281.60" y1="1195.60" x2="281.60" y2="1211.60" stroke="#000" stroke-width="3.7" stroke-linecap="butt"/>
<line x1="357.20" y1="1195.60" x2="357.20" y2="1211.60" stroke="#000" stroke-width="3.7" stroke-linecap="butt"/>
<path d="M183.10,1195.60V869.40H229.50V1195.60" fill="none" stroke="#000" stroke-width="3.9" stroke-linejoin="miter"/>
<path d="M258.40,1195.60V1065.60H304.80V1195.60" fill="none" stroke="#000" stroke-width="3.9" stroke-linejoin="miter"/>
<path d="M334.00,1195.60V1139.30H380.40V1195.60" fill="none" stroke="#000" stroke-width="3.9" stroke-linejoin="miter"/>
<line x1="167.40" y1="1134.4" x2="409.30" y2="1134.4" stroke="#000" stroke-width="4" stroke-linecap="round" stroke-dasharray="0 11.33"/>
<line x1="206.30" y1="860.70" x2="206.30" y2="878.10" stroke="#000" stroke-width="2.5" stroke-linecap="butt"/>
<line x1="193.70" y1="860.70" x2="218.90" y2="860.70" stroke="#000" stroke-width="2.5" stroke-linecap="butt"/>
<line x1="193.70" y1="878.10" x2="218.90" y2="878.10" stroke="#000" stroke-width="2.5" stroke-linecap="butt"/>
<line x1="281.60" y1="1042.40" x2="281.60" y2="1085.30" stroke="#000" stroke-width="2.5" stroke-linecap="butt"/>
<line x1="269.00" y1="1042.40" x2="294.20" y2="1042.40" stroke="#000" stroke-width="2.5" stroke-linecap="butt"/>
<line x1="269.00" y1="1085.30" x2="294.20" y2="1085.30" stroke="#000" stroke-width="2.5" stroke-linecap="butt"/>
<circle cx="186.80" cy="849.30" r="6"/>
<circle cx="199.60" cy="856.70" r="6"/>
<circle cx="212.60" cy="850.70" r="6"/>
<circle cx="225.90" cy="859.30" r="6"/>
<circle cx="199.30" cy="873.70" r="6"/>
<circle cx="212.60" cy="876.30" r="6"/>
<circle cx="205.90" cy="907.60" r="6"/>
<circle cx="212.60" cy="866.00" r="6"/>
<circle cx="262.10" cy="1047.90" r="6"/>
<circle cx="281.70" cy="1043.90" r="6"/>
<circle cx="301.00" cy="1049.70" r="6"/>
<circle cx="281.70" cy="1059.40" r="6"/>
<circle cx="281.70" cy="1080.80" r="6"/>
<circle cx="271.90" cy="1139.40" r="6"/>
<circle cx="291.40" cy="1139.40" r="6"/>
<circle cx="281.60" cy="947.50" r="6"/>
<circle cx="338.30" cy="1139.4" r="6"/>
<circle cx="343.70" cy="1139.4" r="6"/>
<circle cx="349.10" cy="1139.4" r="6"/>
<circle cx="354.50" cy="1139.4" r="6"/>
<circle cx="359.90" cy="1139.4" r="6"/>
<circle cx="365.30" cy="1139.4" r="6"/>
<circle cx="370.70" cy="1139.4" r="6"/>
<circle cx="376.10" cy="1139.4" r="6"/>
<path d="M205.8,746.2V725H356.7V1116.9" fill="none" stroke="#000" stroke-width="3.7"/>
<path d="M205.8,826.5V805.8H282V925.1" fill="none" stroke="#000" stroke-width="3.7"/>
<path d="M247.90,704.00L247.90,686.40M240.28,699.60L255.52,690.80M240.28,690.80L255.52,699.60" stroke="#000" stroke-width="3.8" fill="none"/>
<path d="M271.40,704.00L271.40,686.40M263.78,699.60L279.02,690.80M263.78,690.80L279.02,699.60" stroke="#000" stroke-width="3.8" fill="none"/>
<path d="M294.90,704.00L294.90,686.40M287.28,699.60L302.52,690.80M287.28,690.80L302.52,699.60" stroke="#000" stroke-width="3.8" fill="none"/>
<path d="M318.40,704.00L318.40,686.40M310.78,699.60L326.02,690.80M310.78,690.80L326.02,699.60" stroke="#000" stroke-width="3.8" fill="none"/>
<path d="M210.50,784.90L210.50,767.30M202.88,780.50L218.12,771.70M202.88,771.70L218.12,780.50" stroke="#000" stroke-width="3.8" fill="none"/>
<path d="M234.00,784.90L234.00,767.30M226.38,780.50L241.62,771.70M226.38,771.70L241.62,780.50" stroke="#000" stroke-width="3.8" fill="none"/>
<path d="M257.50,784.90L257.50,767.30M249.88,780.50L265.12,771.70M249.88,771.70L265.12,780.50" stroke="#000" stroke-width="3.8" fill="none"/>
<path d="M281.00,784.90L281.00,767.30M273.38,780.50L288.62,771.70M273.38,771.70L288.62,780.50" stroke="#000" stroke-width="3.8" fill="none"/>
<g transform="translate(216.80,1238.50) rotate(-45)"><text x="0" y="0" font-size="31.5" text-anchor="end">Control</text></g>
<g transform="translate(292.10,1238.50) rotate(-45)"><text x="-17.52" y="0" font-size="31.5" text-anchor="end">ΔEM x</text><path d="M845,0L670,0L670,1120C620,1075 565,1040 500,1005C430,968 350,940 285,922L285,1090C380,1130 470,1185 550,1255C620,1318 670,1370 705,1409L845,1409Z" fill="#000" transform="translate(-17.52,0.00) scale(0.01538,-0.01538)"/></g>
<g transform="translate(367.70,1238.50) rotate(-45)"><text x="-17.52" y="0" font-size="31.5" text-anchor="end">ΔEM x</text><text x="-17.52" y="0" font-size="31.5">2</text></g>
<line x1="128.40" y1="1354.90" x2="350.00" y2="1354.90" stroke="#000" stroke-width="2.2" stroke-linecap="butt"/>
<text x="239.20" y="1397.20" font-size="33.0" text-anchor="middle" font-weight="normal" fill="#000" >Lung</text>
<line x1="514.00" y1="816.95" x2="514.00" y2="1197.45" stroke="#000" stroke-width="3.7" stroke-linecap="butt"/>
<line x1="498.00" y1="1195.60" x2="514.00" y2="1195.60" stroke="#000" stroke-width="3.7" stroke-linecap="butt"/>
<text transform="translate(476.45,1208.00) scale(1,1.04)" font-size="33.0">0</text>
<line x1="498.00" y1="1101.40" x2="514.00" y2="1101.40" stroke="#000" stroke-width="3.7" stroke-linecap="butt"/>
<text transform="translate(476.45,1113.80) scale(1,1.04)" font-size="33.0">2</text>
<line x1="498.00" y1="1007.20" x2="514.00" y2="1007.20" stroke="#000" stroke-width="3.7" stroke-linecap="butt"/>
<text transform="translate(476.45,1019.60) scale(1,1.04)" font-size="33.0">4</text>
<line x1="498.00" y1="913.00" x2="514.00" y2="913.00" stroke="#000" stroke-width="3.7" stroke-linecap="butt"/>
<text transform="translate(476.45,925.40) scale(1,1.04)" font-size="33.0">6</text>
<line x1="498.00" y1="818.80" x2="514.00" y2="818.80" stroke="#000" stroke-width="3.7" stroke-linecap="butt"/>
<text transform="translate(476.45,831.20) scale(1,1.04)" font-size="33.0">8</text>
<line x1="498.00" y1="1195.60" x2="767.30" y2="1195.60" stroke="#000" stroke-width="3.7" stroke-linecap="butt"/>
<line x1="564.30" y1="1195.60" x2="564.30" y2="1211.60" stroke="#000" stroke-width="3.7" stroke-linecap="butt"/>
<line x1="639.60" y1="1195.60" x2="639.60" y2="1211.60" stroke="#000" stroke-width="3.7" stroke-linecap="butt"/>
<line x1="715.20" y1="1195.60" x2="715.20" y2="1211.60" stroke="#000" stroke-width="3.7" stroke-linecap="butt"/>
<path d="M541.10,1195.60V904.80H587.50V1195.60" fill="none" stroke="#000" stroke-width="3.9" stroke-linejoin="miter"/>
<path d="M616.40,1195.60V1026.50H662.80V1195.60" fill="none" stroke="#000" stroke-width="3.9" stroke-linejoin="miter"/>
<path d="M692.00,1195.60V1139.30H738.40V1195.60" fill="none" stroke="#000" stroke-width="3.9" stroke-linejoin="miter"/>
<line x1="525.40" y1="1134.4" x2="767.30" y2="1134.4" stroke="#000" stroke-width="4" stroke-linecap="round" stroke-dasharray="0 11.33"/>
<line x1="564.30" y1="899.30" x2="564.30" y2="910.30" stroke="#000" stroke-width="2.5" stroke-linecap="butt"/>
<line x1="551.70" y1="899.30" x2="576.90" y2="899.30" stroke="#000" stroke-width="2.5" stroke-linecap="butt"/>
<line x1="551.70" y1="910.30" x2="576.90" y2="910.30" stroke="#000" stroke-width="2.5" stroke-linecap="butt"/>
<line x1="639.60" y1="1013.90" x2="639.60" y2="1034.70" stroke="#000" stroke-width="2.5" stroke-linecap="butt"/>
<line x1="627.00" y1="1013.90" x2="652.20" y2="1013.90" stroke="#000" stroke-width="2.5" stroke-linecap="butt"/>
<line x1="627.00" y1="1034.70" x2="652.20" y2="1034.70" stroke="#000" stroke-width="2.5" stroke-linecap="butt"/>
<circle cx="544.70" cy="889.70" r="6"/>
<circle cx="552.20" cy="899.00" r="6"/>
<circle cx="559.80" cy="894.10" r="6"/>
<circle cx="567.90" cy="889.70" r="6"/>
<circle cx="575.90" cy="894.10" r="6"/>
<circle cx="583.90" cy="894.10" r="6"/>
<circle cx="567.90" cy="903.40" r="6"/>
<circle cx="563.90" cy="955.90" r="6"/>
<circle cx="639.50" cy="969.90" r="6"/>
<circle cx="639.50" cy="993.20" r="6"/>
<circle cx="639.50" cy="1025.90" r="6"/>
<circle cx="659.00" cy="1025.90" r="6"/>
<circle cx="619.90" cy="1035.60" r="6"/>
<circle cx="659.00" cy="1040.30" r="6"/>
<circle cx="639.50" cy="1044.90" r="6"/>
<circle cx="639.50" cy="1059.30" r="6"/>
<circle cx="696.30" cy="1139.4" r="6"/>
<circle cx="701.70" cy="1139.4" r="6"/>
<circle cx="707.10" cy="1139.4" r="6"/>
<circle cx="712.50" cy="1139.4" r="6"/>
<circle cx="717.90" cy="1139.4" r="6"/>
<circle cx="723.30" cy="1139.4" r="6"/>
<circle cx="728.70" cy="1139.4" r="6"/>
<circle cx="734.10" cy="1139.4" r="6"/>
<path d="M564.4,787.6V765.5H715V1117.3" fill="none" stroke="#000" stroke-width="3.7"/>
<path d="M564.4,867.2V845.2H639.6V947.6" fill="none" stroke="#000" stroke-width="3.7"/>
<path d="M605.30,744.50L605.30,726.90M597.68,740.10L612.92,731.30M597.68,731.30L612.92,740.10" stroke="#000" stroke-width="3.8" fill="none"/>
<path d="M628.80,744.50L628.80,726.90M621.18,740.10L636.42,731.30M621.18,731.30L636.42,740.10" stroke="#000" stroke-width="3.8" fill="none"/>
<path d="M652.30,744.50L652.30,726.90M644.68,740.10L659.92,731.30M644.68,731.30L659.92,740.10" stroke="#000" stroke-width="3.8" fill="none"/>
<path d="M675.80,744.50L675.80,726.90M668.18,740.10L683.42,731.30M668.18,731.30L683.42,740.10" stroke="#000" stroke-width="3.8" fill="none"/>
<path d="M567.70,824.80L567.70,807.20M560.08,820.40L575.32,811.60M560.08,811.60L575.32,820.40" stroke="#000" stroke-width="3.8" fill="none"/>
<path d="M591.20,824.80L591.20,807.20M583.58,820.40L598.82,811.60M583.58,811.60L598.82,820.40" stroke="#000" stroke-width="3.8" fill="none"/>
<path d="M614.70,824.80L614.70,807.20M607.08,820.40L622.32,811.60M607.08,811.60L622.32,820.40" stroke="#000" stroke-width="3.8" fill="none"/>
<path d="M638.20,824.80L638.20,807.20M630.58,820.40L645.82,811.60M630.58,811.60L645.82,820.40" stroke="#000" stroke-width="3.8" fill="none"/>
<g transform="translate(574.80,1238.50) rotate(-45)"><text x="0" y="0" font-size="31.5" text-anchor="end">Control</text></g>
<g transform="translate(650.10,1238.50) rotate(-45)"><text x="-17.52" y="0" font-size="31.5" text-anchor="end">ΔEM x</text><path d="M845,0L670,0L670,1120C620,1075 565,1040 500,1005C430,968 350,940 285,922L285,1090C380,1130 470,1185 550,1255C620,1318 670,1370 705,1409L845,1409Z" fill="#000" transform="translate(-17.52,0.00) scale(0.01538,-0.01538)"/></g>
<g transform="translate(725.70,1238.50) rotate(-45)"><text x="-17.52" y="0" font-size="31.5" text-anchor="end">ΔEM x</text><text x="-17.52" y="0" font-size="31.5">2</text></g>
<line x1="488.10" y1="1354.90" x2="709.40" y2="1354.90" stroke="#000" stroke-width="2.2" stroke-linecap="butt"/>
<text x="598.75" y="1397.20" font-size="33.0" text-anchor="middle" font-weight="normal" fill="#000" >NT</text>
<g transform="translate(71.6,1169.95) rotate(-90)"><text x="0" y="0" font-size="33" textLength="220.4" lengthAdjust="spacing">Virus Titer (Log</text><path d="M845,0L670,0L670,1120C620,1075 565,1040 500,1005C430,968 350,940 285,922L285,1090C380,1130 470,1185 550,1255C620,1318 670,1370 705,1409L845,1409Z" fill="#000" transform="translate(219.60,7.70) scale(0.01025,-0.01025)"/><text x="232.6" y="7.7" font-size="21">0</text><text x="244.95" y="0" font-size="33" textLength="91.85" lengthAdjust="spacing"> pfu/g)</text></g>
</svg>
</body></html>
